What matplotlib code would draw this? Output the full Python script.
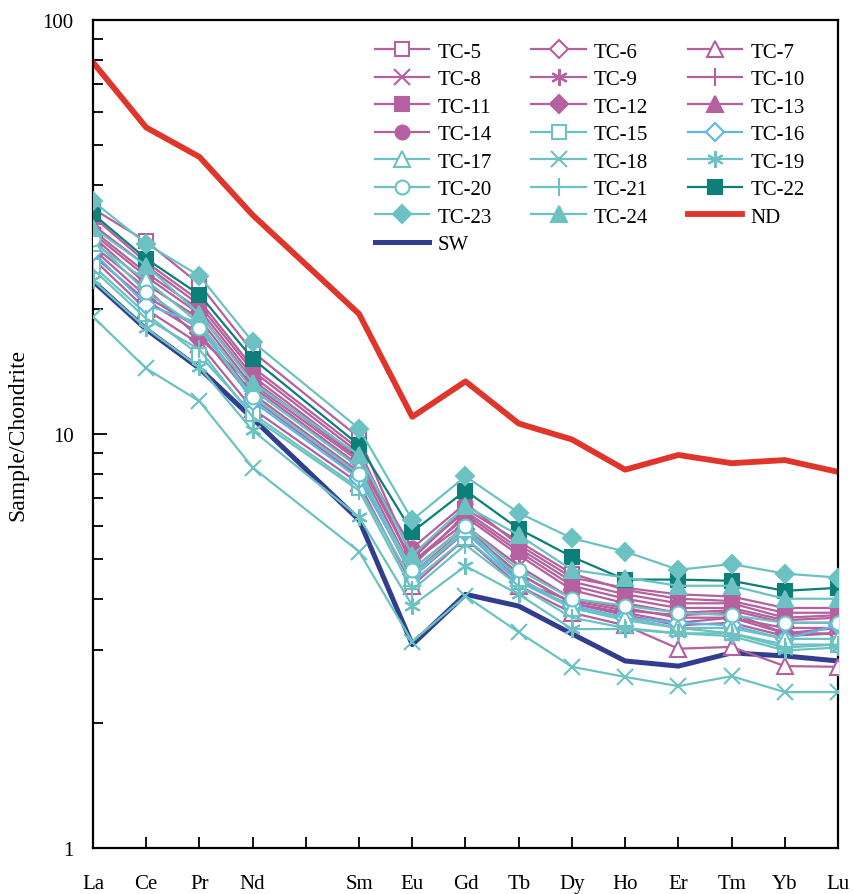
import matplotlib
matplotlib.use("Agg")
import matplotlib.pyplot as plt
import numpy as np

plt.rcParams['font.family'] = ['Liberation Serif', 'DejaVu Serif']

# REE order (Pm has a tick but no label and no data)
elements = ['La', 'Ce', 'Pr', 'Nd', '', 'Sm', 'Eu', 'Gd', 'Tb', 'Dy', 'Ho', 'Er', 'Tm', 'Yb', 'Lu']
data_pos = [0, 1, 2, 3, 5, 6, 7, 8, 9, 10, 11, 12, 13, 14]

# chondrite-normalised values, La Ce Pr Nd Sm Eu Gd Tb Dy Ho Er Tm Yb Lu
tc5 = [35.0, 29.2, 23.0, 15.8, 9.8, 5.0, 6.6, 5.5, 4.6, 4.2, 4.0, 3.95, 3.7, 3.7]
tc6 = [27.0, 21.0, 17.5, 12.2, 7.9, 4.6, 5.9, 4.6, 3.9, 3.7, 3.5, 3.6, 3.3, 3.3]
tc7 = [26.5, 20.0, 16.5, 11.5, 7.6, 4.3, 5.6, 4.3, 3.7, 3.45, 3.03, 3.06, 2.75, 2.74]
tc8 = [30.0, 23.0, 19.0, 13.0, 8.4, 4.7, 6.0, 4.8, 4.0, 3.8, 3.6, 3.6, 3.4, 3.4]
tc9 = [31.0, 24.5, 20.0, 13.8, 8.8, 4.9, 6.3, 5.1, 4.2, 3.9, 3.7, 3.75, 3.5, 3.5]
tc10 = [28.0, 21.5, 18.0, 12.5, 8.1, 4.5, 5.8, 4.6, 3.9, 3.65, 3.45, 3.5, 3.25, 3.3]
tc11 = [33.5, 26.0, 21.0, 14.5, 9.2, 4.8, 6.4, 5.2, 4.3, 4.0, 3.8, 3.8, 3.55, 3.6]
tc12 = [28.5, 22.5, 17.0, 13.2, 8.6, 4.9, 6.1, 4.4, 3.95, 3.75, 3.65, 3.7, 3.3, 3.4]
tc13 = [32.0, 25.5, 20.5, 14.2, 9.0, 5.1, 6.5, 5.3, 4.4, 4.1, 3.9, 3.9, 3.6, 3.65]
tc14 = [30.5, 24.0, 19.5, 13.5, 8.7, 5.3, 6.8, 5.4, 4.5, 4.25, 4.1, 4.05, 3.8, 3.8]
tc15 = [25.5, 19.5, 15.5, 11.2, 7.4, 4.4, 5.6, 4.4, 3.8, 3.55, 3.4, 3.3, 3.1, 3.1]
tc16 = [27.5, 20.5, 18.5, 12.0, 7.8, 4.6, 5.8, 4.4, 3.85, 3.6, 3.5, 3.45, 3.2, 3.45]
tc17 = [29.0, 23.5, 18.5, 12.8, 8.3, 4.5, 5.9, 4.5, 3.8, 3.6, 3.4, 3.4, 3.2, 3.2]
tc18 = [19.2, 14.4, 12.0, 8.3, 5.2, 3.15, 4.06, 3.32, 2.74, 2.59, 2.46, 2.6, 2.38, 2.38]
tc19 = [23.5, 18.0, 14.5, 10.2, 6.3, 3.85, 4.8, 4.1, 3.38, 3.38, 3.3, 3.25, 3.0, 3.05]
tc20 = [29.5, 22.0, 18.0, 12.3, 8.0, 4.7, 6.0, 4.7, 4.0, 3.85, 3.7, 3.65, 3.5, 3.5]
tc21 = [25.0, 19.0, 16.0, 11.0, 7.3, 4.2, 5.4, 4.3, 3.6, 3.4, 3.3, 3.3, 3.05, 3.1]
tc22 = [34.0, 26.5, 21.7, 15.2, 9.4, 5.8, 7.3, 5.9, 5.05, 4.45, 4.45, 4.42, 4.18, 4.25]
tc23 = [36.5, 28.8, 24.1, 16.7, 10.3, 6.2, 7.9, 6.45, 5.6, 5.2, 4.7, 4.85, 4.6, 4.5]
tc24 = [31.5, 25.5, 19.5, 13.3, 8.9, 5.1, 6.7, 5.7, 4.7, 4.5, 4.3, 4.3, 4.0, 4.0]
nd = [79.0, 55.0, 46.7, 33.8, 19.5, 11.0, 13.4, 10.6, 9.7, 8.2, 8.9, 8.5, 8.65, 8.1]
sw = [23.4, 17.9, 14.4, 10.9, 6.2, 3.1, 4.1, 3.84, 3.29, 2.83, 2.75, 2.96, 2.91, 2.83]

pink = '#b5609f'
cyan = '#6cc2c2'
lblue = '#5bb8e8'
dteal = '#0b7f78'

# (label, values, color, marker, filled)
samples = [
    ('TC-5', tc5, pink, 's', False), ('TC-6', tc6, pink, 'D', False), ('TC-7', tc7, pink, '^', False),
    ('TC-8', tc8, pink, 'x', False), ('TC-9', tc9, pink, (6, 2, 0), False), ('TC-10', tc10, pink, '|', False),
    ('TC-11', tc11, pink, 's', True), ('TC-12', tc12, pink, 'D', True), ('TC-13', tc13, pink, '^', True),
    ('TC-14', tc14, pink, 'o', True), ('TC-15', tc15, cyan, 's', False), ('TC-16', tc16, lblue, 'D', False),
    ('TC-17', tc17, cyan, '^', False), ('TC-18', tc18, cyan, 'x', False), ('TC-19', tc19, cyan, (6, 2, 0), False),
    ('TC-20', tc20, cyan, 'o', False), ('TC-21', tc21, cyan, '|', False), ('TC-22', tc22, dteal, 's', True),
    ('TC-23', tc23, cyan, 'D', True), ('TC-24', tc24, cyan, '^', True),
]
sizes = {'s': 10, 'o': 10, 'D': 9.5, '^': 11, 'x': 11, '|': 13}

fig = plt.figure(figsize=(8.54, 8.95), dpi=100)
ax = fig.add_axes([93 / 854, 1 - 849 / 895, 745 / 854, 828 / 895])

handles = []
sw_line, = ax.plot(data_pos, sw, color='#313d8f', lw=3.6, label='SW', zorder=2)
nd_line, = ax.plot(data_pos, nd, color='#e0352b', lw=4.2, label='ND', zorder=2)

for lab, vals, col, mk, filled in samples:
    ms = sizes.get(mk, 12)
    h, = ax.plot(data_pos, vals, color=col, lw=1.6, marker=mk, ms=ms,
                 mfc=col if filled else 'white', mec=col, mew=1.5, label=lab, zorder=3)
    handles.append(h)
handles.append(nd_line)
handles.append(sw_line)

ax.set_yscale('log')
ax.set_ylim(1, 100)
ax.set_xlim(0, 14)
ax.set_xticks(range(15))
ax.set_xticklabels(elements)
ax.set_yticks([1, 10, 100])
ax.set_yticklabels(['1', '10', '100'])
ax.tick_params(axis='x', direction='in', length=8, width=1.3, pad=19, labelsize=15)
ax.tick_params(axis='y', which='major', direction='in', length=10, width=1.3, pad=14, labelsize=15)
ax.tick_params(axis='y', which='minor', direction='in', length=7, width=1.3)
ax.yaxis.set_minor_formatter(matplotlib.ticker.NullFormatter())
for s in ax.spines.values():
    s.set_linewidth(1.6)
ax.set_ylabel('Sample/Chondrite', fontsize=17, labelpad=10)

# legend is filled row by row in the original
order = list(range(0, 22, 3)) + list(range(1, 22, 3)) + list(range(2, 22, 3))
leg = ax.legend([handles[i] for i in order], [handles[i].get_label() for i in order],
                ncol=3, frameon=False, fontsize=15, loc='upper left',
                bbox_to_anchor=(375 / 854, 1 - 43 / 895), bbox_transform=fig.transFigure,
                borderpad=0, borderaxespad=0, handlelength=2.6, handletextpad=0.4,
                columnspacing=1.9, labelspacing=0.38)

fig.savefig('out.png', dpi=100)
